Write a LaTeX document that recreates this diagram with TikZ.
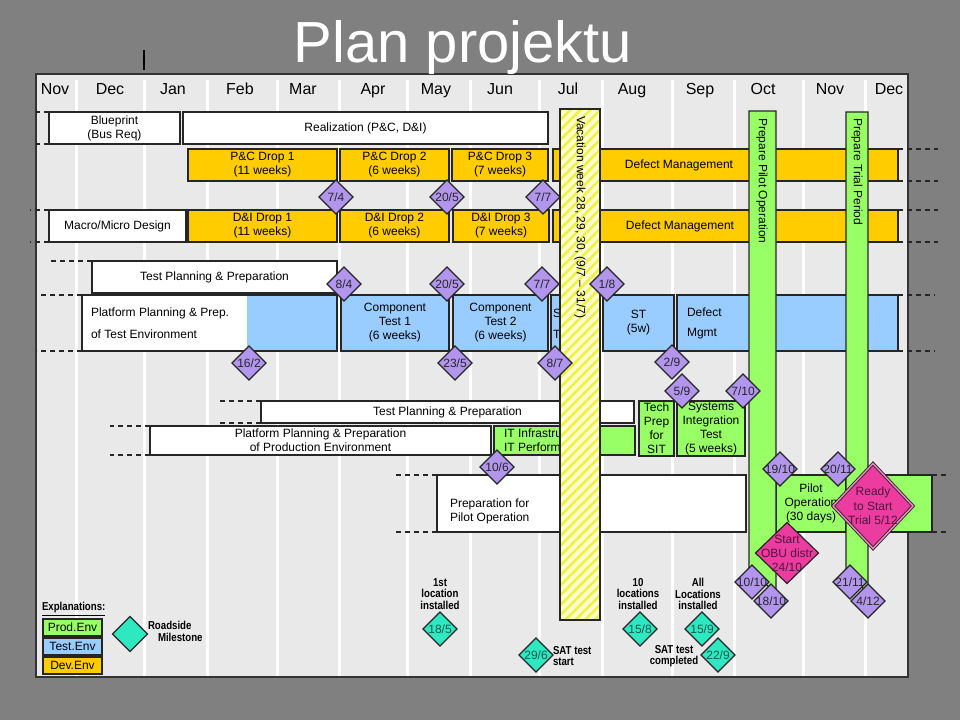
\documentclass[tikz,border=0pt]{standalone}
\usepackage{fontspec}
\setmainfont{Liberation Sans}
\newfontfamily\narrowf[FakeStretch=0.84]{Liberation Sans Bold}
\usetikzlibrary{shapes.geometric,patterns.meta}
\definecolor{bggray}{RGB}{128,128,128}
\definecolor{panelbg}{RGB}{233,233,233}
\definecolor{devc}{RGB}{255,204,0}
\definecolor{tstc}{RGB}{153,204,255}
\definecolor{prodc}{RGB}{153,255,102}
\definecolor{purpc}{RGB}{178,150,238}
\definecolor{tealc}{RGB}{45,232,192}
\definecolor{pinkc}{RGB}{236,60,160}
\definecolor{vacbg}{RGB}{255,255,205}
\definecolor{vacstr}{RGB}{240,240,70}
\definecolor{tealtxt}{RGB}{20,90,80}
\definecolor{pinktxt}{RGB}{80,20,60}
\tikzset{
  box/.style={draw=black!85, line width=1.3pt, inner sep=0pt, outer sep=0pt, align=center, font=\fontsize{12}{14}\selectfont},
  txt/.style={inner sep=0pt, outer sep=0pt, align=left, font=\fontsize{12}{14}\selectfont},
  month/.style={inner sep=0pt, anchor=base, font=\fontsize{16}{18}\selectfont},
  dia/.style={diamond, aspect=1, draw=black!85, line width=1.2pt, inner sep=0pt, outer sep=0pt},
  dtxt/.style={inner sep=0pt, outer sep=0pt, align=center, font=\fontsize{12}{14}\selectfont, text=black!85},
  nb/.style={inner sep=0pt, outer sep=0pt, align=center, font=\narrowf\fontsize{11.5}{11.5}\selectfont},
  dl/.style={draw=black!85, line width=1.3pt, dash pattern=on 5pt off 4pt},
  gbar/.style={fill=prodc, draw=black!85, line width=1.3pt},
  rot/.style={rotate=-90, anchor=west, inner sep=0pt, font=\fontsize{12}{14}\selectfont}
}
\newcommand\bx[7]{\node[box,#6,anchor=north west,minimum width={#4-#2},minimum height={#5-#3}] (#1) at (#2,#3) {#7};}
\newcommand\dm[6]{\node[dia,fill=#4,minimum size=#5] (#1) at (#2,#3) {}; \node[dtxt] (#1t) at (#1.center) {#6};}
\begin{document}
\begin{tikzpicture}[x=1pt,y=-1pt]
\useasboundingbox (0,0) rectangle (960,720);
\fill[bggray] (0,0) rectangle (960,720);
\fill[panelbg] (36,74) rectangle (908,677);
\foreach \x in {76,144,207,277,339,407,470,539,602,672,734,803,865}
  \draw[white, line width=3pt] (\x,80) -- (\x,678);
\draw[black!80, line width=1.2pt] (36,74) rectangle (908,677);
\node[inner sep=0pt, anchor=base, text=white, font=\fontsize{58}{60}\selectfont] (title) at (463,62) {Plan projektu};
\coordinate (vt) at (144,50);
\coordinate (vb) at (144,70);
\draw[black, line width=1.2pt] (vt) -- (vb);
\foreach \x/\t/\n in {55/Nov/m1,110/Dec/m2,173/Jan/m3,240/Feb/m4,303/Mar/m5,373/Apr/m6,436/May/m7,500/Jun/m8,568/Jul/m9,632/Aug/m10,700/Sep/m11,763/Oct/m12,830/Nov/m13,889/Dec/m14}
  \node[month] (\n) at (\x,94) {\t};
% row 1
\bx{bp}{49}{112}{180}{144}{fill=white}{Blueprint\\(Bus Req)}
\bx{real}{183}{112}{548}{144}{fill=white}{Realization (P\&C, D\&I)}
% row 2
\bx{pc1}{188}{149}{337}{181}{fill=devc}{P\&C Drop 1\\(11 weeks)}
\bx{pc2}{340}{149}{449}{181}{fill=devc}{P\&C Drop 2\\(6 weeks)}
\bx{pc3}{452}{149}{548}{181}{fill=devc}{P\&C Drop 3\\(7 weeks)}
\bx{dm1}{553}{149}{898}{181}{fill=devc}{}
\node[txt] (dm1t) at (679,165) {Defect Management};
% row 3
\bx{mm}{49}{210}{186}{242}{fill=white}{Macro/Micro Design}
\bx{di1}{188}{210}{337}{242}{fill=devc}{D\&I Drop 1\\(11 weeks)}
\bx{di2}{340}{210}{449}{242}{fill=devc}{D\&I Drop 2\\(6 weeks)}
\bx{di3}{453}{210}{549}{242}{fill=devc}{D\&I Drop 3\\(7 weeks)}
\bx{dm2}{553}{210}{898}{242}{fill=devc}{}
\node[txt] (dm2t) at (680,226) {Defect Management};
% row 4
\bx{tp1}{92}{261}{337}{293}{fill=white}{Test Planning \& Preparation}
% row 5
\bx{pp}{82}{295}{337}{351}{fill=white}{}
\fill[tstc] (247,295.7) rectangle (336.3,350.3);
\node[txt, anchor=west] (ppa) at (91,313) {Platform Planning \& Prep.};
\node[txt, anchor=west] (ppb) at (91,334) {of Test Environment};
\bx{ct1}{341}{295}{449}{351}{fill=tstc}{Component\\Test 1\\(6 weeks)}
\bx{ct2}{453}{295}{548}{351}{fill=tstc}{Component\\Test 2\\(6 weeks)}
\bx{sx}{551}{295}{592}{351}{fill=tstc}{}
\node[txt, anchor=west] (sxa) at (553,313) {S};
\node[txt, anchor=west] (sxb) at (553,334) {T};
\bx{st}{603}{295}{674}{351}{fill=tstc}{ST\\(5w)}
\bx{dmg}{677}{295}{898}{351}{fill=tstc}{}
\node[txt, anchor=west] (dmga) at (687,312) {Defect};
\node[txt, anchor=west] (dmgb) at (687,334) {Mgmt};
% row 6-8
\bx{tp2}{261}{401}{634}{423}{fill=white}{Test Planning \& Preparation}
\bx{ppp}{150}{426}{491}{455}{fill=white}{Platform Planning \& Preparation\\of Production Environment}
\bx{it}{494}{426}{635}{455}{fill=prodc}{}
\node[txt, anchor=west] (itt) at (504,440.5) {IT Infrastructure\\IT Performance};
\bx{tech}{639}{401}{674}{456}{fill=prodc}{Tech\\Prep\\for\\SIT}
\bx{sit}{677}{401}{745}{456}{fill=prodc}{Systems\\Integration\\Test\\(5 weeks)}
\bx{ppo}{437}{475}{746}{532}{fill=white}{}
\node[txt, anchor=west] (ppot) at (450,511) {Preparation for\\Pilot Operation};
\bx{po}{776}{475}{846}{532}{fill=prodc}{Pilot\\Operation\\(30 days)}
\bx{po2}{846}{475}{932}{532}{fill=prodc}{}
% dashed extensions
\draw[dl] (bp.north west) -- +(-17,0);
\draw[dl] (bp.south west) -- +(-17,0);
\draw[dl] (mm.north west) -- +(-19,0);
\draw[dl] (mm.south west) -- +(-19,0);
\draw[dl] (dm1.north east) -- +(40,0);
\draw[dl] (dm1.south east) -- +(40,0);
\draw[dl] (dm2.north east) -- +(40,0);
\draw[dl] (dm2.south east) -- +(40,0);
\draw[dl] (tp1.north west) -- +(-44,0);
\draw[dl] (pp.north west) -- +(-42,0);
\draw[dl] (pp.south west) -- +(-45,0);
\draw[dl] (dmg.north east) -- +(37,0);
\draw[dl] (dmg.south east) -- +(37,0);
\draw[dl] (tp2.north west) -- +(-44,0);
\draw[dl] (tp2.south west) -- +(-44,0);
\draw[dl] (ppp.north west) -- +(-40,0);
\draw[dl] (ppp.south west) -- +(-40,0);
\draw[dl] (ppo.north west) -- +(-43,0);
\draw[dl] (ppo.south west) -- +(-43,0);
\draw[dl] (po2.north east) -- +(18,0);
\draw[dl] (po2.south east) -- +(18,0);
% vacation bar
\bx{vac}{560}{109}{600}{620}{preaction={fill=vacbg}, pattern={Lines[angle=45,distance=7pt,line width=2.6pt]}, pattern color=vacstr}{}
\node[rot] (vact) at (580,116) {Vacation week 28, 29, 30, (9/7 – 31/7)};
% green vertical bars
\path[gbar] (749,111) -- (776,111) -- (776,592) -- (749,572) -- cycle;
\node[rot] (ppilot) at (762,118) {Prepare Pilot Operation};
\path[gbar] (846,112) -- (868,112) -- (868,592) -- (846,575) -- cycle;
\node[rot] (ptrial) at (857,118) {Prepare Trial Period};
% purple milestones
\dm{d74}{336}{197}{purpc}{34}{7/4}
\dm{d205a}{447}{197}{purpc}{34}{20/5}
\dm{d77a}{543}{197}{purpc}{34}{7/7}
\dm{d84}{344}{284}{purpc}{34}{8/4}
\dm{d205b}{447}{284}{purpc}{34}{20/5}
\dm{d77b}{542}{284}{purpc}{34}{7/7}
\dm{d18}{607}{284}{purpc}{34}{1/8}
\dm{d162}{249}{363}{purpc}{34}{16/2}
\dm{d235}{455}{363}{purpc}{34}{23/5}
\dm{d87}{555}{363}{purpc}{34}{8/7}
\dm{d29}{672}{362}{purpc}{34}{2/9}
\dm{d59}{682}{391}{purpc}{34}{5/9}
\dm{d710}{743}{391}{purpc}{34}{7/10}
\dm{d106}{497}{467}{purpc}{34}{10/6}
\dm{d1910}{780}{469}{purpc}{34}{19/10}
\dm{d2011}{838}{469}{purpc}{34}{20/11}
\dm{d1010}{752}{582}{purpc}{34}{10/10}
\dm{d1810}{771}{601}{purpc}{34}{18/10}
\dm{d2111}{850}{582}{purpc}{34}{21/11}
\dm{d412}{868}{601}{purpc}{34}{4/12}
% pink milestones
\node[dia, fill=pinkc, minimum width=63, minimum height=61] (obu) at (787,553) {};
\node[dtxt, text=pinktxt] (obut) at (787,553) {Start\\OBU distr\\24/10};
\node[dia, fill=pinkc, minimum width=80, minimum height=85, line width=0.9pt, double=pinkc!60!white, double distance=1.4pt] (ready) at (873,506) {};
\node[dtxt, text=pinktxt, font=\fontsize{12}{14.5}\selectfont] (readyt) at (873,506) {Ready\\to Start\\Trial 5/12};
% roadside milestones
\node[dia, fill=tealc, minimum size=34] (t185) at (440,629) {};
\node[dtxt, text=tealtxt] (t185t) at (t185) {18/5};
\node[dia, fill=tealc, minimum size=34] (t296) at (536,655) {};
\node[dtxt, text=tealtxt] (t296t) at (t296) {29/6};
\node[dia, fill=tealc, minimum size=34] (t158) at (640,629) {};
\node[dtxt, text=tealtxt] (t158t) at (t158) {15/8};
\node[dia, fill=tealc, minimum size=34] (t159) at (702,629) {};
\node[dtxt, text=tealtxt] (t159t) at (t159) {15/9};
\node[dia, fill=tealc, minimum size=34] (t229) at (718,655) {};
\node[dtxt, text=tealtxt] (t229t) at (t229) {22/9};
\node[nb] (l185) at (440,594) {1st\\location\\installed};
\node[nb] (l158) at (638,594) {10\\locations\\installed};
\node[nb] (l159) at (698,594) {All\\Locations\\installed};
\node[nb, anchor=west, align=left] (l296) at (553,656) {SAT test\\start};
\node[nb] (l229) at (674,656) {SAT test\\completed};
% legend
\node[nb, anchor=west] (expl) at (42,609) {\underline{Explanations:}};
\bx{lp}{43}{619}{102}{636}{fill=prodc}{Prod.Env}
\bx{lt}{43}{638}{102}{655}{fill=tstc}{Test.Env}
\bx{ld}{43}{657}{102}{674}{fill=devc}{Dev.Env}
\node[dia, fill=tealc, minimum size=35] (legd) at (130,634) {};
\node[nb, anchor=west] (lr1) at (148,625) {Roadside};
\node[nb, anchor=west] (lr2) at (158,637) {Milestone};
\end{tikzpicture}
\end{document}
